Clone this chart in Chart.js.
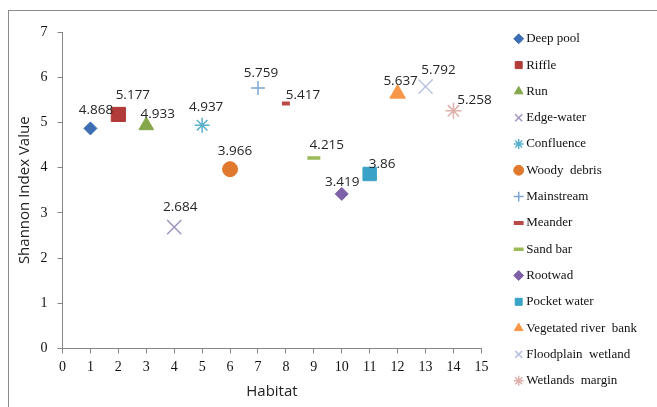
<!DOCTYPE html>
<html>
<head>
<meta charset="utf-8">
<script src="https://cdn.jsdelivr.net/npm/chart.js@4.4.0/dist/chart.umd.min.js"></script>
<style>
  html, body { margin: 0; padding: 0; background: #fff; overflow: hidden; }
  #frame { position: absolute; left: 8px; top: 10px; width: 720px; height: 460px; border: 1.5px solid #8c8c8c; }
  #wrap { position: absolute; left: 0; top: 0; width: 657px; height: 407px; }
</style>
</head>
<body>
<div id="frame"></div>
<div id="wrap"><canvas id="shannonChart" width="657" height="407"></canvas></div>
<script>
const habitats = ['Deep pool', 'Riffle', 'Run', 'Edge-water', 'Confluence', 'Woody  debris', 'Mainstream',
  'Meander', 'Sand bar', 'Rootwad', 'Pocket water', 'Vegetated river  bank', 'Floodplain  wetland', 'Wetlands  margin'];
const habitatNo = [1, 2, 3, 4, 5, 6, 7, 8, 9, 10, 11, 12, 13, 14];
const shannon = [4.868, 5.177, 4.933, 2.684, 4.937, 3.966, 5.759, 5.417, 4.215, 3.419, 3.86, 5.637, 5.792, 5.258];

// marker looks, one per habitat
const markerStyle = ['rectRot', 'rect', 'triangle', 'crossRot', 'star', 'circle', 'cross',
  'line', 'line', 'rectRot', 'rect', 'triangle', 'crossRot', 'star'];
const markerSize = [6.5, 10, 8.5, 10, 7.5, 7.5, 7, 4, 6.5, 6.5, 9.5, 9, 10, 8];
const markerLine = [1, 1, 1, 1.5, 1.5, 1, 1.5, 4, 3.5, 1, 1, 1, 1.5, 1.5];
const markerColor = ['#3d6db3', '#b03b39', '#84a74b', '#a193c0', '#5ab1cc', '#e0792e', '#7fa6d2',
  '#b94a47', '#9bbb59', '#7e60a8', '#3aa2c6', '#f79646', '#bac3e0', '#ddb0ab'];
// where each value label sits relative to its marker (dragged by hand in the original)
const labelShift = [[5.5, -18], [14.5, -19], [11.5, -11.5], [6, -20], [4, -18.5], [5, -18.5], [3, -15],
  [17, -8.5], [13, -13], [0.5, -12], [12.5, -10], [3, -12], [13, -16.5], [21, -11]];

const serif = '"Liberation Serif", "Times New Roman", serif';
const sans = '"Open Sans", sans-serif';
const axisGray = '#868686';

const valueLabels = {
  id: 'valueLabels',
  afterDatasetsDraw(chart) {
    const ctx = chart.ctx;
    ctx.save();
    ctx.font = '13.5px ' + sans;
    ctx.fillStyle = '#262626';
    ctx.textAlign = 'center';
    ctx.textBaseline = 'middle';
    chart.data.datasets.forEach((ds, i) => {
      const pt = chart.getDatasetMeta(i).data[0];
      ctx.fillText(String(shannon[i]), pt.x + labelShift[i][0], pt.y + labelShift[i][1]);
    });
    ctx.restore();
  }
};

const datasets = habitats.map((name, i) => ({
  label: name,
  data: [{ x: habitatNo[i], y: shannon[i] }],
  xAxisID: 'x',
  yAxisID: 'y',
  pointStyle: markerStyle[i],
  pointRadius: markerSize[i],
  pointHoverRadius: markerSize[i],
  pointBorderWidth: markerLine[i],
  borderWidth: markerLine[i],
  backgroundColor: markerColor[i],
  borderColor: markerColor[i],
  showLine: false
}));

new Chart(document.getElementById('shannonChart').getContext('2d'), {
  type: 'scatter',
  data: { datasets: datasets },
  plugins: [valueLabels],
  options: {
    responsive: false,
    animation: false,
    layout: { padding: { left: 8, top: 19, right: 10, bottom: 0 } },
    scales: {
      x: {
        type: 'linear', position: 'bottom', min: 0, max: 15,
        ticks: { stepSize: 1, padding: 5, color: '#111', font: { family: serif, size: 14 } },
        grid: { display: true, drawOnChartArea: false, drawTicks: true, tickLength: 5, color: axisGray },
        border: { display: true, color: axisGray, width: 1 },
        title: { display: true, text: 'Habitat', color: '#222', font: { family: sans, size: 15 }, padding: { top: 0, bottom: 6 } },
        afterFit: (scale) => { scale.height = 58.5; }
      },
      y: {
        type: 'linear', position: 'left', min: 0, max: 7,
        ticks: { stepSize: 1, padding: 10, color: '#111', font: { family: serif, size: 14 } },
        grid: { display: true, drawOnChartArea: false, drawTicks: true, tickLength: 5, color: axisGray },
        border: { display: true, color: axisGray, width: 1 },
        title: { display: true, text: 'Shannon Index Value', color: '#222', font: { family: sans, size: 15 }, padding: { top: 8, bottom: 0 } },
        afterFit: (scale) => { scale.width = 54.5; }
      },
      // empty spacers so the plot sits lower and further from the legend
      xPad: {
        type: 'linear', position: 'top', min: 0, max: 1,
        ticks: { display: false }, grid: { display: false }, border: { display: false },
        afterFit: (scale) => { scale.height = 13; }
      },
      yPad: {
        type: 'linear', position: 'right', min: 0, max: 1,
        ticks: { display: false }, grid: { display: false }, border: { display: false },
        afterFit: (scale) => { scale.width = 23; }
      }
    },
    plugins: {
      tooltip: { enabled: false },
      legend: {
        position: 'right',
        align: 'start',
        maxWidth: 170,
        labels: {
          usePointStyle: true,
          boxWidth: 2,
          boxHeight: 7,
          padding: 13.3,
          color: '#111',
          font: { family: serif, size: 13 }
        }
      }
    }
  }
});
</script>
</body>
</html>
